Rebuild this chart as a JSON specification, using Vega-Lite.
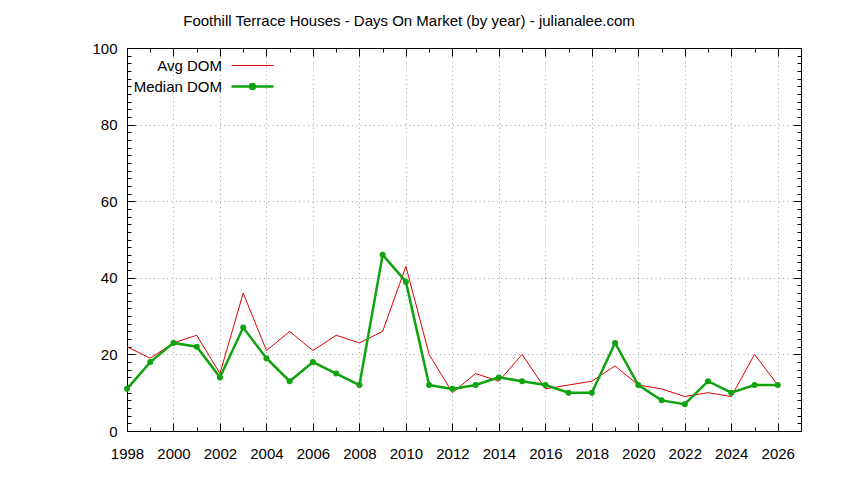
{
  "$schema": "https://vega.github.io/schema/vega-lite/v6.json",
  "width": 674,
  "height": 383,
  "autosize": {"type": "none"},
  "padding": {"left": 127, "top": 48, "right": 43, "bottom": 49},
  "background": "white",
  "config": {"view": {"stroke": null}, "font": "Liberation Sans"},
  "title": {
    "text": "Foothill Terrace Houses - Days On Market (by year) - julianalee.com",
    "font": "Liberation Sans",
    "fontSize": 15,
    "fontWeight": "normal",
    "color": "black",
    "anchor": "middle",
    "frame": "group",
    "dx": -55,
    "offset": 0,
    "baseline": "alphabetic"
  },
  "data": {
    "values": [
      {"year": 1998, "series": "Avg DOM", "dom": 22},
      {"year": 1999, "series": "Avg DOM", "dom": 19},
      {"year": 2000, "series": "Avg DOM", "dom": 23},
      {"year": 2001, "series": "Avg DOM", "dom": 25},
      {"year": 2002, "series": "Avg DOM", "dom": 15},
      {"year": 2003, "series": "Avg DOM", "dom": 36},
      {"year": 2004, "series": "Avg DOM", "dom": 21},
      {"year": 2005, "series": "Avg DOM", "dom": 26},
      {"year": 2006, "series": "Avg DOM", "dom": 21},
      {"year": 2007, "series": "Avg DOM", "dom": 25},
      {"year": 2008, "series": "Avg DOM", "dom": 23},
      {"year": 2009, "series": "Avg DOM", "dom": 26},
      {"year": 2010, "series": "Avg DOM", "dom": 43},
      {"year": 2011, "series": "Avg DOM", "dom": 20},
      {"year": 2012, "series": "Avg DOM", "dom": 10},
      {"year": 2013, "series": "Avg DOM", "dom": 15},
      {"year": 2014, "series": "Avg DOM", "dom": 13},
      {"year": 2015, "series": "Avg DOM", "dom": 20},
      {"year": 2016, "series": "Avg DOM", "dom": 11},
      {"year": 2017, "series": "Avg DOM", "dom": 12},
      {"year": 2018, "series": "Avg DOM", "dom": 13},
      {"year": 2019, "series": "Avg DOM", "dom": 17},
      {"year": 2020, "series": "Avg DOM", "dom": 12},
      {"year": 2021, "series": "Avg DOM", "dom": 11},
      {"year": 2022, "series": "Avg DOM", "dom": 9},
      {"year": 2023, "series": "Avg DOM", "dom": 10},
      {"year": 2024, "series": "Avg DOM", "dom": 9},
      {"year": 2025, "series": "Avg DOM", "dom": 20},
      {"year": 2026, "series": "Avg DOM", "dom": 12},
      {"year": 1998, "series": "Median DOM", "dom": 11},
      {"year": 1999, "series": "Median DOM", "dom": 18},
      {"year": 2000, "series": "Median DOM", "dom": 23},
      {"year": 2001, "series": "Median DOM", "dom": 22},
      {"year": 2002, "series": "Median DOM", "dom": 14},
      {"year": 2003, "series": "Median DOM", "dom": 27},
      {"year": 2004, "series": "Median DOM", "dom": 19},
      {"year": 2005, "series": "Median DOM", "dom": 13},
      {"year": 2006, "series": "Median DOM", "dom": 18},
      {"year": 2007, "series": "Median DOM", "dom": 15},
      {"year": 2008, "series": "Median DOM", "dom": 12},
      {"year": 2009, "series": "Median DOM", "dom": 46},
      {"year": 2010, "series": "Median DOM", "dom": 39},
      {"year": 2011, "series": "Median DOM", "dom": 12},
      {"year": 2012, "series": "Median DOM", "dom": 11},
      {"year": 2013, "series": "Median DOM", "dom": 12},
      {"year": 2014, "series": "Median DOM", "dom": 14},
      {"year": 2015, "series": "Median DOM", "dom": 13},
      {"year": 2016, "series": "Median DOM", "dom": 12},
      {"year": 2017, "series": "Median DOM", "dom": 10},
      {"year": 2018, "series": "Median DOM", "dom": 10},
      {"year": 2019, "series": "Median DOM", "dom": 23},
      {"year": 2020, "series": "Median DOM", "dom": 12},
      {"year": 2021, "series": "Median DOM", "dom": 8},
      {"year": 2022, "series": "Median DOM", "dom": 7},
      {"year": 2023, "series": "Median DOM", "dom": 13},
      {"year": 2024, "series": "Median DOM", "dom": 10},
      {"year": 2025, "series": "Median DOM", "dom": 12},
      {"year": 2026, "series": "Median DOM", "dom": 12}
    ]
  },
  "layer": [
    {
      "transform": [{"filter": "datum.series === 'Avg DOM'"}],
      "mark": {"type": "line", "strokeWidth": 1},
      "encoding": {
        "x": {
          "field": "year", "type": "quantitative",
          "scale": {"domain": [1998, 2027], "nice": false, "zero": false},
          "axis": {
            "orient": "bottom", "title": null,
            "values": [1998,1999,2000,2001,2002,2003,2004,2005,2006,2007,2008,2009,2010,2011,2012,2013,2014,2015,2016,2017,2018,2019,2020,2021,2022,2023,2024,2025,2026],
            "labelExpr": "datum.value % 2 === 0 ? format(datum.value, 'd') : ''",
            "labelFont": "Liberation Sans", "labelFontSize": 15, "labelColor": "black",
            "labelFlush": false, "labelOverlap": false, "labelAngle": 0,
            "labelPadding": 23,
            "tickSize": {"condition": {"test": "datum.value % 2 === 0", "value": -8}, "value": -4},
            "tickColor": "black", "tickWidth": 1,
            "domainColor": "black", "domainWidth": 1,
            "grid": true, "gridColor": "#a0a0a0", "gridDash": [1, 3.4], "gridWidth": 1,
            "gridOpacity": {"condition": {"test": "datum.value % 2 === 0 && datum.value > 1998", "value": 1}, "value": 0}
          }
        },
        "y": {
          "field": "dom", "type": "quantitative",
          "scale": {"domain": [0, 100], "nice": false},
          "axis": {
            "orient": "left", "title": null,
            "values": [0,2,4,6,8,10,12,14,16,18,20,22,24,26,28,30,32,34,36,38,40,42,44,46,48,50,52,54,56,58,60,62,64,66,68,70,72,74,76,78,80,82,84,86,88,90,92,94,96,98,100],
            "labelExpr": "datum.value % 20 === 0 ? format(datum.value, 'd') : ''",
            "labelFont": "Liberation Sans", "labelFontSize": 15, "labelColor": "black",
            "labelFlush": false, "labelOverlap": false,
            "labelPadding": 18,
            "tickSize": {"condition": {"test": "datum.value % 20 === 0", "value": -8}, "value": -4},
            "tickColor": "black", "tickWidth": 1,
            "domainColor": "black", "domainWidth": 1,
            "grid": true, "gridColor": "#a0a0a0", "gridDash": [1, 3.4], "gridWidth": 1,
            "gridOpacity": {"condition": {"test": "datum.value % 20 === 0 && datum.value > 0 && datum.value < 100", "value": 1}, "value": 0}
          }
        },
        "color": {
          "field": "series", "type": "nominal",
          "scale": {"domain": ["Avg DOM", "Median DOM"], "range": ["#e00000", "#0fa30f"]},
          "legend": {
            "orient": "none", "legendX": 118, "legendY": 10,
            "title": null, "padding": 0, "rowPadding": 5,
            "labelAlign": "right", "labelOffset": -38,
            "labelFont": "Liberation Sans", "labelFontSize": 15, "labelColor": "black",
            "symbolType": "M-3,0H3", "symbolSize": 196,
            "encode": {
              "symbols": {
                "update": {
                  "shape": {"signal": "datum.value === 'Median DOM' ? 'M-3,0H3M-0.35,0A0.35,0.35 0 1 1 0.35,0A0.35,0.35 0 1 1 -0.35,0' : 'M-3,0H3'"},
                  "fill": {"signal": "datum.value === 'Median DOM' ? '#0fa30f' : 'transparent'"},
                  "strokeWidth": {"signal": "datum.value === 'Median DOM' ? 2.5 : 1"},
                  "opacity": {"value": 1}
                }
              }
            }
          }
        }
      }
    },
    {
      "transform": [{"filter": "datum.series === 'Median DOM'"}],
      "mark": {"type": "line", "strokeWidth": 2.5, "point": {"filled": true, "size": 36, "opacity": 1}},
      "encoding": {
        "x": {
          "field": "year", "type": "quantitative",
          "axis": {
            "orient": "top", "title": null, "labels": false, "grid": false,
            "values": [1998,1999,2000,2001,2002,2003,2004,2005,2006,2007,2008,2009,2010,2011,2012,2013,2014,2015,2016,2017,2018,2019,2020,2021,2022,2023,2024,2025,2026],
            "tickSize": {"condition": {"test": "datum.value % 2 === 0", "value": -8}, "value": -4},
            "tickColor": "black", "tickWidth": 1,
            "domainColor": "black", "domainWidth": 1
          }
        },
        "y": {
          "field": "dom", "type": "quantitative",
          "axis": {
            "orient": "right", "title": null, "labels": false, "grid": false,
            "values": [0,2,4,6,8,10,12,14,16,18,20,22,24,26,28,30,32,34,36,38,40,42,44,46,48,50,52,54,56,58,60,62,64,66,68,70,72,74,76,78,80,82,84,86,88,90,92,94,96,98,100],
            "tickSize": {"condition": {"test": "datum.value % 20 === 0", "value": -8}, "value": -4},
            "tickColor": "black", "tickWidth": 1,
            "domainColor": "black", "domainWidth": 1
          }
        },
        "color": {"field": "series", "type": "nominal"}
      }
    }
  ],
  "resolve": {"axis": {"x": "independent", "y": "independent"}}
}
